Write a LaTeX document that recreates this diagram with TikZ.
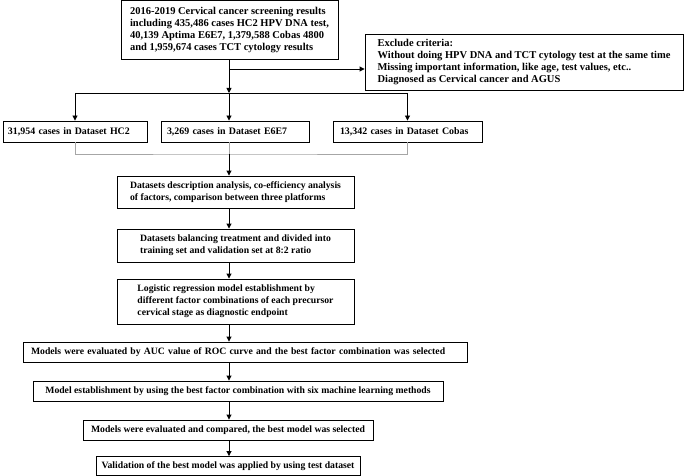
\documentclass[tikz,border=0pt]{standalone}
\usepackage{fontspec}
\setmainfont{Liberation Serif}
\usetikzlibrary{positioning}
\usetikzlibrary{arrows.meta}

\tikzset{
  box/.style={draw, rectangle, line width=0.9pt, align=left, inner xsep=4pt, inner ysep=0pt, font=\bfseries\fontsize{9.7}{12}\selectfont},
  bigbox/.style={box, font=\bfseries\fontsize{10.5}{12.3}\selectfont},
  setbox/.style={box, font=\bfseries\fontsize{9.9}{12}\selectfont},
  link/.style={-{Triangle[length=5pt,width=5pt]}, line width=0.9pt},
  merge/.style={draw=gray!70, line width=0.9pt}
}

\begin{document}
\begin{tikzpicture}[x=1pt,y=-1pt]
            \useasboundingbox (0,0) rectangle (685,476);

            % Screening data and exclusion
            \node[bigbox, minimum width=217pt, minimum height=59pt] (screen) at (229.5,30) {2016-2019 Cervical cancer screening results\\including 435,486 cases HC2 HPV DNA test,\\40,139 Aptima E6E7, 1,379,588 Cobas 4800\\and 1,959,674 cases TCT cytology results};
            \node[bigbox, minimum width=318pt, minimum height=56pt] (exclude) at (524,62) {Exclude criteria:\\Without doing HPV DNA and TCT cytology test at the same time\\Missing important information, like age, test values, etc..\\Diagnosed as Cervical cancer and AGUS};

            % Three datasets
            \node[setbox, inner xsep=5pt, text width=134pt, minimum height=21pt] (hc2) at (75,131.5) {31,954 cases in Dataset HC2};
            \node[setbox, inner xsep=6pt, text width=136pt, minimum height=21pt] (e6e7) at (235,131.5) {3,269 cases in Dataset E6E7};
            \node[setbox, inner xsep=7pt, text width=135pt, minimum height=21pt] (cobas) at (407.5,131.5) {13,342 cases in Dataset Cobas};

            % Analysis steps
            \node[box, minimum width=237pt, minimum height=32pt] (describe) at (235.5,192) {Datasets description analysis, co-efficiency analysis\\of factors, comparison between three platforms};
            \node[box, minimum width=237pt, minimum height=33pt] (balance) at (235.5,245.5) {Datasets balancing treatment and divided into\\training set and validation set at 8:2 ratio};
            \node[box, minimum width=237pt, minimum height=45pt] (logit) at (235.5,301.5) {Logistic regression model establishment by\\different factor combinations of each precursor\\cervical stage as diagnostic endpoint};
            \node[box, inner xsep=8pt, text width=428pt, minimum height=20pt] (auc) at (245,352) {Models were evaluated by AUC value of ROC curve and the best factor combination was selected};
            \node[box, minimum width=410pt, minimum height=20pt] (ml) at (238,391) {Model establishment by using the best factor combination with six machine learning methods};
            \node[box, minimum width=290pt, minimum height=20pt] (compare) at (228,430) {Models were evaluated and compared, the best model was selected};
            \node[box, minimum width=264pt, minimum height=19pt] (valid) at (228,466) {Validation of the best model was applied by using test dataset};

            % Split points
            \coordinate (branch) at (229,69);
            \coordinate (split) at (229,93);
            \coordinate (join) at (229,154);

            % Arrows from screening data
            \draw[line width=0.9pt] (screen.south -| branch) -- (branch);
            \draw[link] (branch) -- (branch -| exclude.west);
            \draw[link] (branch) -- (split);
            \draw[line width=0.9pt] (split -| hc2) -- (split -| cobas);
            \draw[link] (split -| hc2) -- (hc2);
            \draw[link] (split) -- (split |- e6e7.north);
            \draw[link] (split -| cobas) -- (cobas);

            % Datasets merged
            \draw[merge] (hc2.south) |- (join) -| (cobas.south);
            \draw[merge] (e6e7.south -| join) -- (join);

            % Arrows down the steps
            \draw[link] (join) -- (join |- describe.north);
            \draw[link] (describe.south -| join) -- (balance.north -| join);
            \draw[link] (balance.south -| join) -- (logit.north -| join);
            \draw[link] (logit.south -| join) -- (auc.north -| join);
            \draw[link] (auc.south -| join) -- (ml.north -| join);
            \draw[link] (ml.south -| join) -- (compare.north -| join);
            \draw[link] (compare.south -| join) -- (valid.north -| join);
        \end{tikzpicture}
\end{document}
